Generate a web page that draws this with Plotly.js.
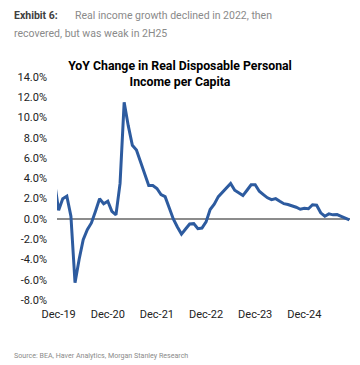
<!DOCTYPE html>
<html><head><meta charset="utf-8">
<script src="https://cdn.plot.ly/plotly-3.0.1.min.js"></script>
<style>html,body{margin:0;padding:0;background:#fff}#chart{width:360px;height:365px}</style>
</head><body><div id="chart"></div>
<script>
// Months from Nov-19 to Nov-25 (first point sits just left of the visible axis)
const months = ["Nov-19","Dec-19",
 "Jan-20","Feb-20","Mar-20","Apr-20","May-20","Jun-20","Jul-20","Aug-20","Sep-20","Oct-20","Nov-20","Dec-20",
 "Jan-21","Feb-21","Mar-21","Apr-21","May-21","Jun-21","Jul-21","Aug-21","Sep-21","Oct-21","Nov-21","Dec-21",
 "Jan-22","Feb-22","Mar-22","Apr-22","May-22","Jun-22","Jul-22","Aug-22","Sep-22","Oct-22","Nov-22","Dec-22",
 "Jan-23","Feb-23","Mar-23","Apr-23","May-23","Jun-23","Jul-23","Aug-23","Sep-23","Oct-23","Nov-23","Dec-23",
 "Jan-24","Feb-24","Mar-24","Apr-24","May-24","Jun-24","Jul-24","Aug-24","Sep-24","Oct-24","Nov-24","Dec-24",
 "Jan-25","Feb-25","Mar-25","Apr-25","May-25","Jun-25","Jul-25","Aug-25","Sep-25","Oct-25","Nov-25"];
// YoY change in real disposable personal income per capita (%)
const yoy = [3.6, 0.85,
 2.0, 2.24, 0.26, -6.3, -4.0, -2.05, -1.06, -0.4, 0.75, 1.98, 1.5, 1.74,
 0.75, 0.4, 3.5, 11.5, 9.2, 7.26, 6.8, 5.6, 4.4, 3.3, 3.3, 3.0,
 2.4, 2.2, 1.1, 0.0, -0.8, -1.5, -1.0, -0.5, -0.47, -0.96, -0.9, -0.3,
 0.92, 1.45, 2.2, 2.6, 3.07, 3.5, 2.83, 2.57, 2.3, 2.83, 3.37, 3.37,
 2.73, 2.4, 2.08, 1.9, 2.0, 1.74, 1.5, 1.42, 1.3, 1.15, 0.95, 1.05,
 1.0, 1.4, 1.35, 0.6, 0.26, 0.5, 0.4, 0.43, 0.26, 0.1, -0.1];
const xTicks = ["Dec-19","Dec-20","Dec-21","Dec-22","Dec-23","Dec-24"];
const yTicks = [-8,-6,-4,-2,0,2,4,6,8,10,12,14];
const yTickText = ["-8.0%","-6.0%","-4.0%","-2.0%","0.0%","2.0%","4.0%","6.0%","8.0%","10.0%","12.0%","14.0%"];

const L = 56.7, R = 350, T = 77, B = 300, W = 360, H = 365;
const px = x => (x - L) / (R - L);
const py = y => (B - y) / (B - T);

const trace = {
  x: months, y: yoy, type: 'scatter', mode: 'lines',
  line: {color: '#2D5B9F', width: 3, shape: 'linear'},
  hoverinfo: 'skip'
};
const layout = {
  width: W, height: H,
  margin: {l: L, r: W - R, t: T, b: H - B, pad: 0},
  paper_bgcolor: '#fff', plot_bgcolor: '#fff',
  showlegend: false,
  font: {family: 'Roboto, Arial, sans-serif', color: '#222'},
  title: {
    text: '<b>YoY Change in Real Disposable Personal<br>Income per Capita</b>',
    font: {family: 'Roboto, sans-serif', size: 12.3, color: '#000'},
    x: 0.5, xref: 'container', xanchor: 'center',
    y: 1 - 70 / H, yref: 'container', yanchor: 'top'
  },
  xaxis: {
    type: 'category', range: [0.6, 72.15],
    tickvals: xTicks, ticktext: xTicks,
    showgrid: false, zeroline: false, showline: false, ticks: '',
    tickfont: {size: 11, color: '#222'}, ticklabelstandoff: 6,
    fixedrange: true
  },
  yaxis: {
    range: [-8, 14], tickvals: yTicks, ticktext: yTickText,
    showgrid: false, showline: false, ticks: '',
    zeroline: true, zerolinecolor: '#8c8c8c', zerolinewidth: 1.5,
    tickfont: {size: 11, color: '#222'}, ticklabelstandoff: 9,
    fixedrange: true
  },
  annotations: [
    {text: '<b>Exhibit 6:</b>', x: px(12), y: py(15), xref: 'paper', yref: 'paper',
     xanchor: 'left', yanchor: 'middle', showarrow: false,
     font: {family: 'Roboto, sans-serif', size: 10.5, color: '#404040'}},
    {text: 'Real income growth declined in 2022, then', x: px(73), y: py(15), xref: 'paper', yref: 'paper',
     xanchor: 'left', yanchor: 'middle', showarrow: false,
     font: {family: 'Roboto, sans-serif', size: 10.5, color: '#8a8a8a'}},
    {text: 'recovered, but was weak in 2H25', x: px(12), y: py(33.3), xref: 'paper', yref: 'paper',
     xanchor: 'left', yanchor: 'middle', showarrow: false,
     font: {family: 'Roboto, sans-serif', size: 10.5, color: '#8a8a8a'}},
    {text: 'Source: BEA, Haver Analytics, Morgan Stanley Research', x: px(12), y: py(355), xref: 'paper', yref: 'paper',
     xanchor: 'left', yanchor: 'middle', showarrow: false,
     font: {family: 'Roboto, sans-serif', size: 7.1, color: '#8a8a8a'}}
  ]
};
Plotly.newPlot('chart', [trace], layout, {displayModeBar: false, staticPlot: true});
</script></body></html>
